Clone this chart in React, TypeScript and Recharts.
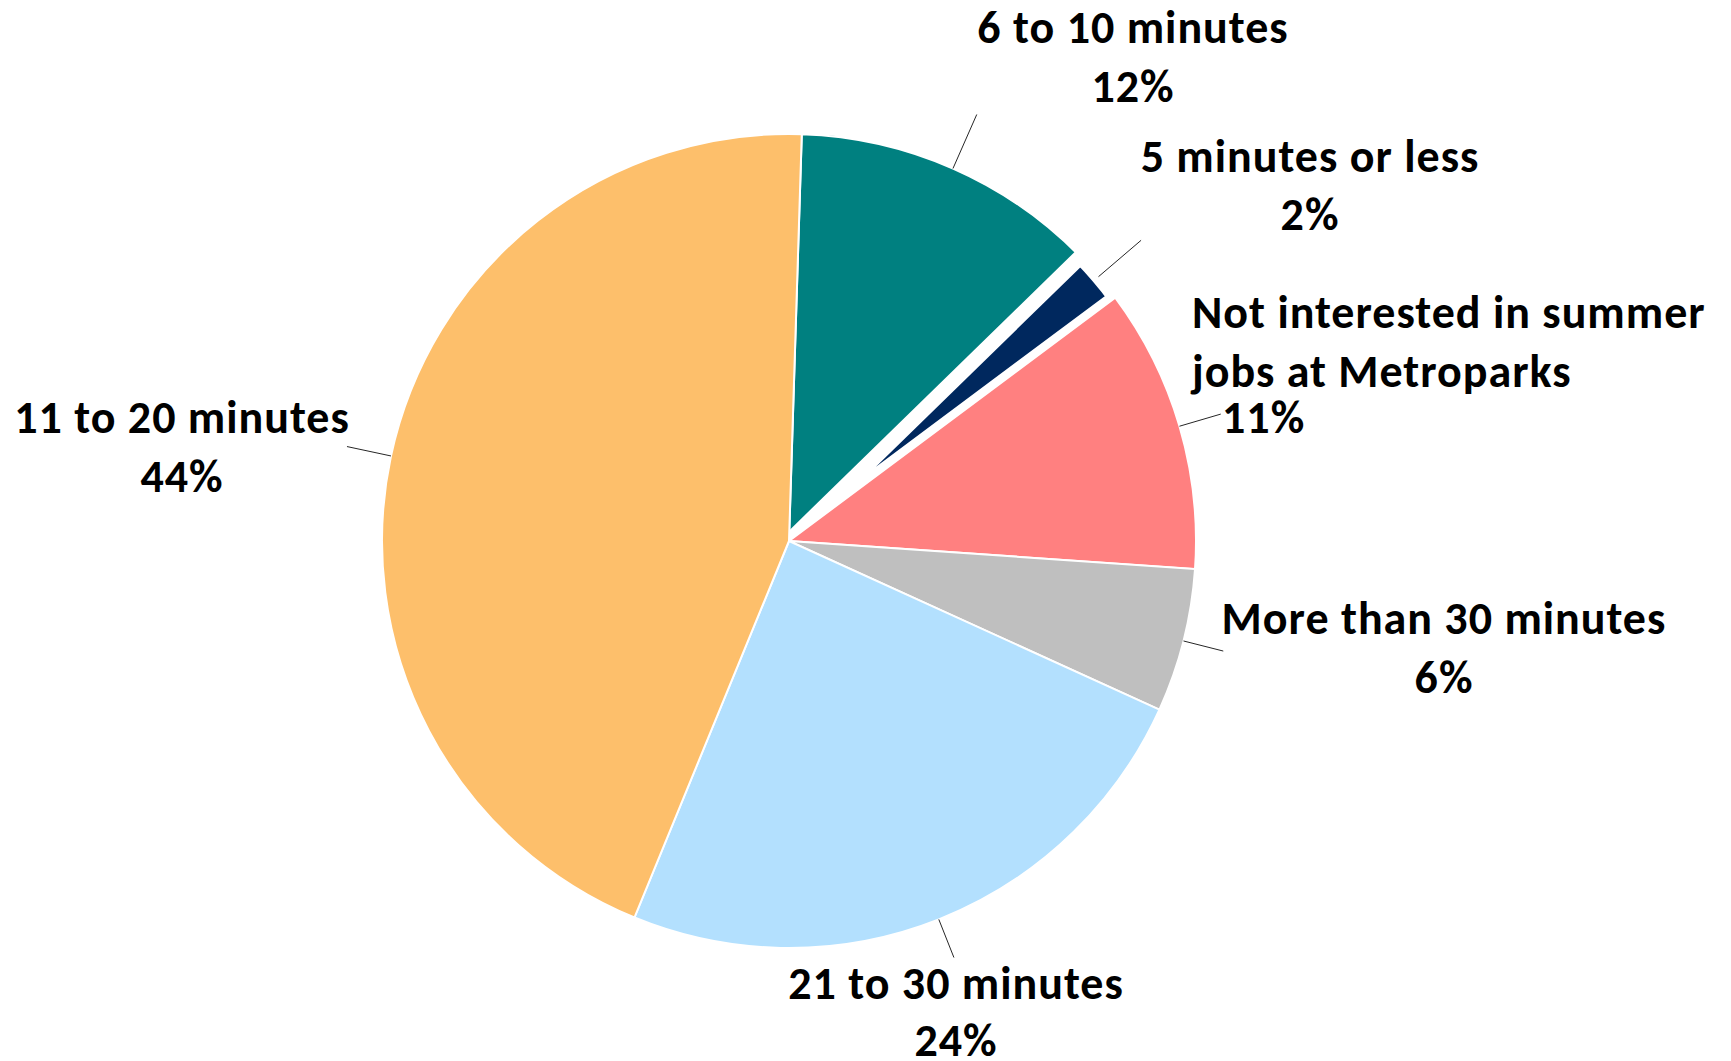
import { PieChart, Pie, Cell } from 'recharts';

// commute time shares, clockwise from 12 o'clock
const categories = [
  '6 to 10 minutes',
  '5 minutes or less',
  'Not interested in summer jobs at Metroparks',
  'More than 30 minutes',
  '21 to 30 minutes',
  '11 to 20 minutes',
];
const shares = [12.2, 2.1, 11.3, 5.7, 24.4, 44.3];
const colors = ['#008080', '#00285e', '#ff8080', '#bfbfbf', '#b3e0fe', '#fdbf6b'];

const data = categories.map((name, i) => ({ name, value: shares[i] }));

const FONT = 'Carlito, Calibri, Lato, sans-serif';
const FONT_SIZE = 46;

// label placement relative to pie centre (Excel "best fit" look)
const labelLayout = [
  { leader: 59, dx: 344, dy: -498, anchor: 'middle', gap: 59 },
  { leader: 56, dx: 521, dy: -369, anchor: 'middle', gap: 58 },
  { leader: 43, dx: 403, dy: -213, anchor: 'start', gap: 59, wrap: 24, pctDx: 433, pctGap: 46 },
  { leader: 41, dx: 655, dy: 93, anchor: 'middle', gap: 59 },
  { leader: 41, dx: 167, dy: 458, anchor: 'middle', gap: 57 },
  { leader: 45, dx: -607, dy: -108, anchor: 'middle', gap: 59 },
];

function wrapText(text: string, max?: number) {
  if (!max) return [text];
  const out: string[] = [];
  let cur = '';
  for (const w of text.split(' ')) {
    const next = cur ? cur + ' ' + w : w;
    if (next.length > max && cur) {
      out.push(cur);
      cur = w;
    } else cur = next;
  }
  if (cur) out.push(cur);
  return out;
}

function renderLabel(props: any) {
  const { cx, cy, midAngle, outerRadius, percent, index } = props;
  const name = props.name ?? props.payload?.name;
  const l: any = labelLayout[index];
  const rad = (-midAngle * Math.PI) / 180;
  const x1 = cx + outerRadius * Math.cos(rad);
  const y1 = cy + outerRadius * Math.sin(rad);
  const x2 = cx + (outerRadius + l.leader) * Math.cos(rad);
  const y2 = cy + (outerRadius + l.leader) * Math.sin(rad);
  const lines = wrapText(name, l.wrap);
  const tx = cx + l.dx;
  const ty = cy + l.dy;
  const lastY = ty + (lines.length - 1) * l.gap + (l.pctGap ?? l.gap);
  return (
    <g key={`lbl-${index}`}>
      <line x1={x1} y1={y1} x2={x2} y2={y2} stroke="#262626" strokeWidth={1} />
      <text
        textAnchor={l.anchor}
        fill="#000"
        fontFamily={FONT}
        fontSize={FONT_SIZE}
        fontWeight={700}
        letterSpacing={1}
      >
        {lines.map((s, k) => (
          <tspan key={k} x={tx} y={ty + k * l.gap}>
            {s}
          </tspan>
        ))}
        <tspan x={l.pctDx != null ? cx + l.pctDx : tx} y={lastY}>
          {Math.round(percent * 100)}%
        </tspan>
      </text>
    </g>
  );
}

export default function App() {
  return (
    <div style={{ position: 'absolute', left: 0, top: 0, background: '#fff' }}>
      <PieChart width={1731} height={1061} margin={{ top: 0, right: 0, bottom: 0, left: 0 }}>
        <Pie
          data={data}
          dataKey="value"
          nameKey="name"
          cx={789}
          cy={541}
          outerRadius={407}
          startAngle={88.2}
          endAngle={-271.8}
          label={renderLabel}
          labelLine={false}
          isAnimationActive={false}
        >
          {data.map((d, i) => (
            <Cell
              key={d.name}
              fill={colors[i]}
              stroke="#fff"
              strokeWidth={i === 1 ? 15 : 2}
            />
          ))}
        </Pie>
      </PieChart>
    </div>
  );
}
